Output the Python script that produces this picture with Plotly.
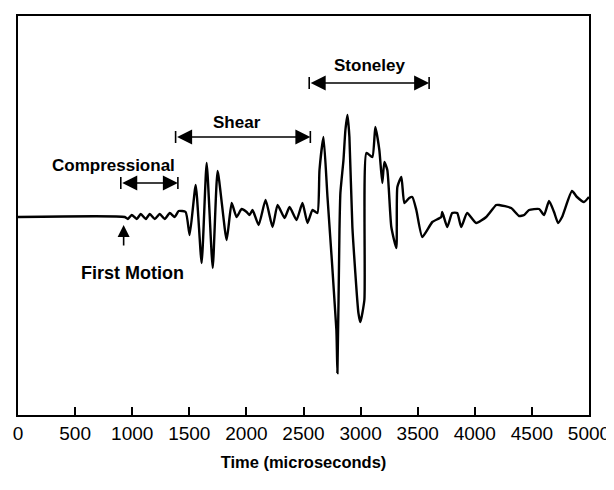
import plotly.graph_objects as go

# Waveform: time (microseconds) and relative amplitude
time_us = [0, 935, 962, 996, 1040, 1075, 1119, 1154, 1198, 1241, 1285, 1329, 1372, 1407, 1468,
           1503, 1556, 1608, 1652, 1705, 1748, 1827, 1871, 1914, 1958, 2002, 2028, 2054, 2107,
           2168, 2229, 2273, 2334, 2378, 2439, 2491, 2535, 2579, 2622, 2640, 2675, 2710, 2788,
           2797, 2815, 2823, 2850, 2867, 2885, 2902, 2928, 2981, 2998, 3033, 3051, 3103, 3129,
           3164, 3190, 3208, 3234, 3269, 3313, 3322, 3357, 3383, 3426, 3453, 3488, 3540, 3628,
           3706, 3715, 3759, 3802, 3846, 3881, 3933, 4012, 4100, 4187, 4213, 4318, 4388, 4432,
           4475, 4563, 4607, 4650, 4694, 4729, 4764, 4851, 4895, 4956, 5000]
amplitude = [0, 0, -0.02, 0.02, -0.02, 0.03, -0.02, 0.03, -0.02, 0.03, -0.02, 0.04, 0.0, 0.06, 0.05,
             -0.18, 0.32, -0.46, 0.54, -0.51, 0.46, -0.23, 0.14, 0.0, 0.08, 0.05, 0.02, 0.07, -0.08,
             0.17, -0.10, 0.12, -0.01, 0.10, -0.03, 0.14, -0.06, 0.07, 0.04, 0.47, 0.80, 0.20, -1.13,
             -1.56, -0.13, 0.24, 0.57, 0.87, 1.02, 0.80, -0.10, -0.96, -1.05, -0.83, 0.64, 0.60, 0.90,
             0.67, 0.34, 0.55, 0.47, -0.10, -0.31, 0.30, 0.40, 0.14, 0.19, 0.20, 0.07, -0.20, -0.05,
             0.0, 0.05, -0.10, 0.04, 0.04, -0.10, 0.04, -0.06, 0.0, 0.12, 0.12, 0.09, 0.01, 0.02,
             0.07, 0.08, 0.02, 0.16, 0.05, -0.06, 0.0, 0.26, 0.20, 0.15, 0.20]

# Wave-arrival windows
phase_names = ["Compressional", "Shear", "Stoneley"]
phase_start = [900, 1380, 2550]
phase_end = [1400, 2560, 3600]
phase_arrow_level = [0.34, 0.80, 1.34]
phase_label_time = [840, 1915, 3075]
phase_label_level = [0.52, 0.95, 1.52]

first_motion_time = 925
first_motion_label = "First Motion"

x_ticks = [0, 500, 1000, 1500, 2000, 2500, 3000, 3500, 4000, 4500, 5000]
x_title = "Time (microseconds)"

FONT = "Liberation Sans"

fig = go.Figure()
fig.add_trace(go.Scatter(x=time_us, y=amplitude, mode="lines",
                         line=dict(color="black", width=2.4, shape="spline", smoothing=0.5),
                         hoverinfo="skip"))

shapes = []
annotations = []
for name, s, e, lvl, tx, tl in zip(phase_names, phase_start, phase_end,
                                    phase_arrow_level, phase_label_time, phase_label_level):
    annotations.append(dict(x=e, y=lvl, ax=s, ay=lvl, xref="x", yref="y", axref="x", ayref="y",
                            text="", showarrow=True, arrowside="end+start", arrowhead=2,
                            arrowsize=2.0, arrowwidth=1.5, arrowcolor="black"))
    for xx in (s, e):
        shapes.append(dict(type="line", xref="x", yref="y", x0=xx, x1=xx,
                           y0=lvl - 0.06, y1=lvl + 0.06, line=dict(color="black", width=1.6)))
    annotations.append(dict(x=tx, y=tl, xref="x", yref="y", text=f"<b>{name}</b>",
                            showarrow=False, font=dict(family=FONT, size=17, color="black")))

annotations.append(dict(x=first_motion_time, y=-0.08, ax=first_motion_time, ay=-0.30,
                        xref="x", yref="y", axref="x", ayref="y", text="", showarrow=True,
                        arrowhead=2, arrowsize=1.5, arrowwidth=1.6, arrowcolor="black"))
annotations.append(dict(x=first_motion_time + 75, y=-0.56, xref="x", yref="y",
                        text=f"<b>{first_motion_label}</b>", showarrow=False,
                        font=dict(family=FONT, size=18, color="black")))

# The page body adds an 8px offset, so the figure is sized to fit the window
fig.update_layout(
    width=606, height=482,
    margin=dict(l=10, r=25, t=8, b=75, autoexpand=False),
    paper_bgcolor="white", plot_bgcolor="white",
    showlegend=False,
    shapes=shapes, annotations=annotations,
    xaxis=dict(range=[0, 5000], tickvals=x_ticks, ticktext=[str(v) for v in x_ticks],
               ticks="inside", ticklen=8, tickwidth=1.6, tickcolor="black",
               showline=True, linecolor="black", linewidth=2, mirror=True,
               showgrid=False, zeroline=False, automargin=False, ticklabeloverflow="allow",
               tickfont=dict(family=FONT, size=19, color="black"),
               title=dict(text=f"<b>{x_title}</b>", standoff=14,
                          font=dict(family=FONT, size=16.5, color="black"))),
    yaxis=dict(range=[-1.98, 2.01], showticklabels=False, ticks="", automargin=False,
               showline=True, linecolor="black", linewidth=2, mirror=True,
               showgrid=False, zeroline=False),
)

fig.write_html("out.html")
